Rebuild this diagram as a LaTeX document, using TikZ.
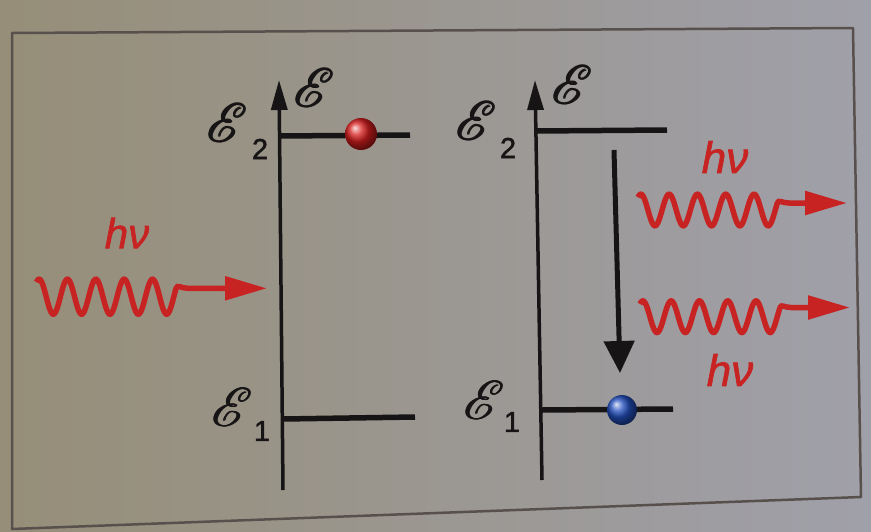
\documentclass[tikz,border=0pt]{standalone}
\usepackage{fontspec}
\setmainfont{Liberation Sans}
\newfontfamily\hvfam{Liberation Sans}[FakeBold=1.5]
\usepackage{mathrsfs}
\usepackage{graphicx}
\usetikzlibrary{arrows.meta}
\definecolor{bgL}{RGB}{150,142,120}
\definecolor{bgR}{RGB}{160,160,170}
\definecolor{photon}{RGB}{200,35,35}
\definecolor{ink}{RGB}{22,20,20}
\definecolor{framec}{RGB}{88,80,76}
\definecolor{redball}{RGB}{215,30,30}
\definecolor{blueball}{RGB}{35,80,190}
\newcommand\oneE{$\mathscr{E}$}
\newcommand\scrE{\scalebox{2.2}{\fontsize{24.88}{28}\selectfont\rlap{\oneE}\kern0.22pt\rlap{\raisebox{0.15pt}{\oneE}}\kern0.22pt\oneE}}
\begin{document}
\begin{tikzpicture}[x=1pt,y=-1pt,
  axis/.style={draw=ink, line width=3.5pt, -{Triangle[length=30pt,width=16pt]}},
  level/.style={draw=ink, line width=5.5pt},
  fall/.style={draw=ink, line width=5pt, -{Triangle[length=32pt,width=30pt]}},
  wave/.style={draw=photon, line width=5.5pt, -{Triangle[length=42pt,width=23pt]}},
  lbl/.style={inner sep=0pt, text=ink},
  sub/.style={inner sep=0pt, text=ink, font=\fontsize{29}{29}\hvfam},
  hv/.style={inner sep=0pt, text=photon, font=\fontsize{44}{44}\hvfam\itshape},
  redb/.style={circle, inner sep=0pt, minimum size=32pt, ball color=redball},
  blueb/.style={circle, inner sep=0pt, minimum size=30pt, ball color=blueball},
  framed/.style={draw=framec, line width=2.5pt, line join=round},
]
\shade[left color=bgL, right color=bgR] (0,0) rectangle (871,531);
\useasboundingbox (0,0) rectangle (871,531);

% frame
\coordinate (f1) at (12,33);
\coordinate (f2) at (853,28);
\coordinate (f3) at (861,497);
\coordinate (f4) at (12,529);
\draw[framed] (f1) -- (f2) -- (f3) -- (f4) -- cycle;

% left diagram
\coordinate (La0) at (283,490);
\coordinate (La1) at (279,80);
\draw[axis] (La0) -- (La1);
\coordinate (L2a) at (279,136);
\coordinate (L2b) at (410,135);
\draw[level] (L2a) -- (L2b);
\coordinate (L1a) at (283,419);
\coordinate (L1b) at (415,417);
\draw[level] (L1a) -- (L1b);
\node[redb] (rb) at (361,134) {};
\node[lbl] (Lax) at (314,88) {\scrE};
\node[lbl] (L2E) at (227,123) {\scrE};
\node[sub] (L2s) at (260,149) {2};
\node[lbl] (L1E) at (232,407) {\scrE};
\node[sub] (L1s) at (262,431) {1};

% incoming photon
\node[hv, font=\fontsize{42}{42}\hvfam\itshape] (hvL) at (127,233) {hν};
\coordinate (w1tip) at (267,288.3);
\draw[wave] plot[domain=36.5:176.05, samples=160] (\x, {296.7 + 17.5*cos(12.698*(\x-53.3))})
  .. controls (177.25,284.2) and (181,288.3) .. (188,288.3) -- (w1tip);

% right diagram
\coordinate (Ra0) at (542,480);
\coordinate (Ra1) at (535,80);
\draw[axis] (Ra0) -- (Ra1);
\coordinate (R2a) at (535,131);
\coordinate (R2b) at (667,130);
\draw[level] (R2a) -- (R2b);
\coordinate (R1a) at (542,410);
\coordinate (R1b) at (673,409);
\draw[level] (R1a) -- (R1b);
\node[blueb] (bb) at (622,410) {};
\node[lbl] (Rax) at (572,85) {\scrE};
\node[lbl] (R2E) at (476,121) {\scrE};
\node[sub] (R2s) at (508,148) {2};
\node[lbl] (R1E) at (484,400) {\scrE};
\node[sub] (R1s) at (512,422) {1};

\coordinate (D0) at (614,150);
\coordinate (D1) at (620,373);
\draw[fall] (D0) -- (D1);

% outgoing photons
\node[hv] (hvR1) at (725,157) {hν};
\coordinate (w2tip) at (847,203);
\draw[wave] plot[domain=638:777.3, samples=160] (\x, {210 + 15.8*cos(12.721*(\x-655))})
  .. controls (778.5,199.2) and (782,203) .. (789,203) -- (w2tip);

\node[hv] (hvR2) at (730,370) {hν};
\coordinate (w3tip) at (850,307.5);
\draw[wave] plot[domain=640:780.1, samples=160] (\x, {316.7 + 15.8*cos(12.721*(\x-657))})
  .. controls (781.3,304.1) and (784.5,307.5) .. (791,307.5) -- (w3tip);
\end{tikzpicture}
\end{document}
